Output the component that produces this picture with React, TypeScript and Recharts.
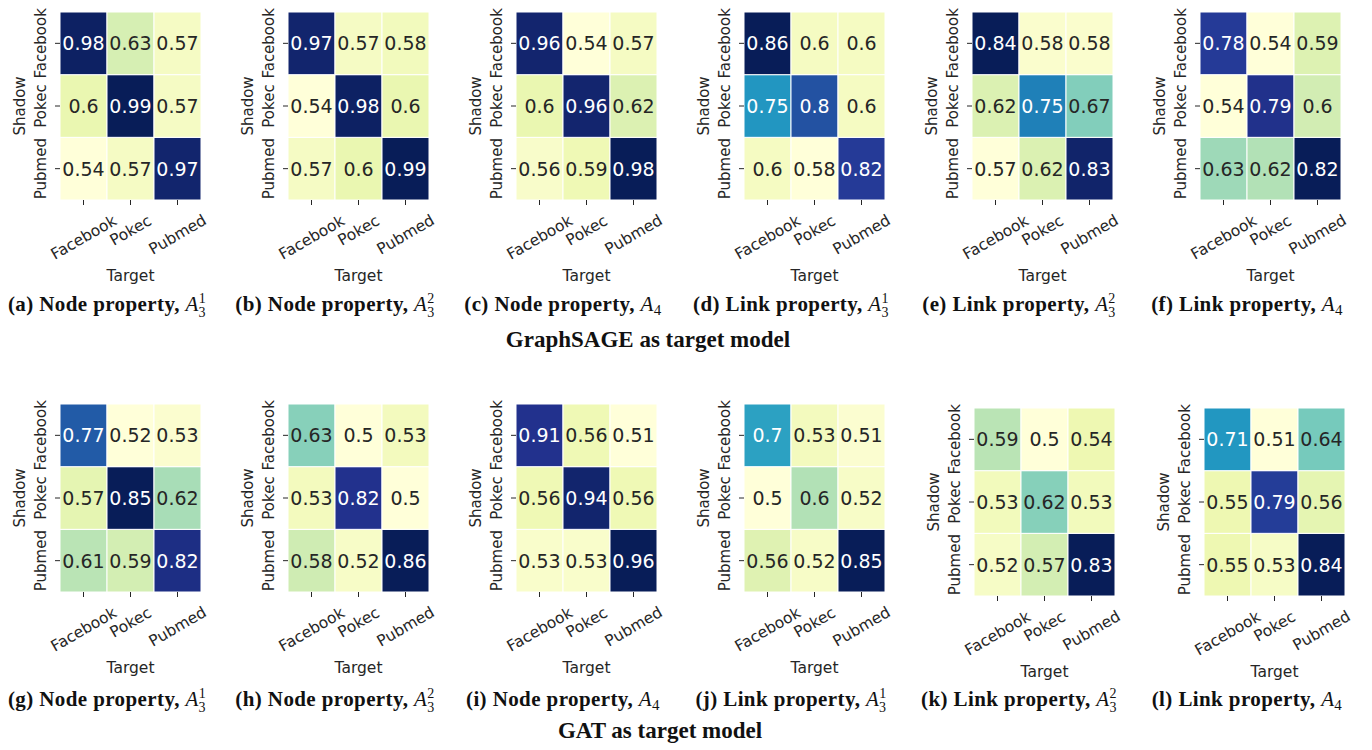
import { BarChart, Bar, XAxis, YAxis, Cell, LabelList } from 'recharts';

const TARGETS = ['Facebook', 'Pokec', 'Pubmed'];
const SHADOWS = ['Facebook', 'Pokec', 'Pubmed'];

// rows = shadow dataset, columns = target dataset
const sageNodeA31 = [[0.98, 0.63, 0.57], [0.6, 0.99, 0.57], [0.54, 0.57, 0.97]];
const sageNodeA32 = [[0.97, 0.57, 0.58], [0.54, 0.98, 0.6], [0.57, 0.6, 0.99]];
const sageNodeA4 = [[0.96, 0.54, 0.57], [0.6, 0.96, 0.62], [0.56, 0.59, 0.98]];
const sageLinkA31 = [[0.86, 0.6, 0.6], [0.75, 0.8, 0.6], [0.6, 0.58, 0.82]];
const sageLinkA32 = [[0.84, 0.58, 0.58], [0.62, 0.75, 0.67], [0.57, 0.62, 0.83]];
const sageLinkA4 = [[0.78, 0.54, 0.59], [0.54, 0.79, 0.6], [0.63, 0.62, 0.82]];
const gatNodeA31 = [[0.77, 0.52, 0.53], [0.57, 0.85, 0.62], [0.61, 0.59, 0.82]];
const gatNodeA32 = [[0.63, 0.5, 0.53], [0.53, 0.82, 0.5], [0.58, 0.52, 0.86]];
const gatNodeA4 = [[0.91, 0.56, 0.51], [0.56, 0.94, 0.56], [0.53, 0.53, 0.96]];
const gatLinkA31 = [[0.7, 0.53, 0.51], [0.5, 0.6, 0.52], [0.56, 0.52, 0.85]];
const gatLinkA32 = [[0.59, 0.5, 0.54], [0.53, 0.62, 0.53], [0.52, 0.57, 0.83]];
const gatLinkA4 = [[0.71, 0.51, 0.64], [0.55, 0.79, 0.56], [0.55, 0.53, 0.84]];

const LETTERS = ['a', 'b', 'c', 'd', 'e', 'f', 'g', 'h', 'i', 'j', 'k', 'l'];
const KINDS = ['Node', 'Node', 'Node', 'Link', 'Link', 'Link'];
const ATTACKS = [
  { sub: '3', sup: '1' },
  { sub: '3', sup: '2' },
  { sub: '4', sup: '' },
];
const ROW_TITLES = ['GraphSAGE as target model', 'GAT as target model'];

const MATRICES = [
  sageNodeA31, sageNodeA32, sageNodeA4, sageLinkA31, sageLinkA32, sageLinkA4,
  gatNodeA31, gatNodeA32, gatNodeA4, gatLinkA31, gatLinkA32, gatLinkA4,
];

// small per-panel nudges seen in the original figure
const NUDGE: Record<number, [number, number]> = { 10: [2, 4], 11: [4, 4] };

const YLGNBU = ['#ffffd9', '#edf8b1', '#c7e9b4', '#7fcdbb', '#41b6c4', '#1d91c0', '#225ea8', '#253494', '#081d58'];
const SANS = 'DejaVu Sans, sans-serif';
const SERIF = 'Liberation Serif, Times New Roman, serif';
const INK = '#262626';

function hexToRgb(h: string) {
  return [1, 3, 5].map((i) => parseInt(h.slice(i, i + 2), 16));
}

function ylgnbu(t: number) {
  const p = Math.max(0, Math.min(1, t)) * 8;
  const i = Math.min(7, Math.floor(p));
  const f = p - i;
  const a = hexToRgb(YLGNBU[i]);
  const b = hexToRgb(YLGNBU[i + 1]);
  return a.map((v, k) => Math.round(v + (b[k] - v) * f));
}

function textColor(rgb: number[]) {
  const lin = rgb.map((v) => {
    const c = v / 255;
    return c <= 0.03928 ? c / 12.92 : Math.pow((c + 0.055) / 1.055, 2.4);
  });
  const lum = 0.2126 * lin[0] + 0.7152 * lin[1] + 0.0722 * lin[2];
  return lum > 0.408 ? INK : '#ffffff';
}

// approx. rendered width of tick labels at 15px
const TICK_W: Record<string, number> = { Facebook: 72, Pokec: 44, Pubmed: 61 };

const XTick = (props: any) => {
  const { x, y, payload } = props;
  const w = TICK_W[payload.value] || 60;
  const cy = y + 7 + (0.5 * w + 0.866 * 12) / 2;
  return (
    <text
      transform={`translate(${x},${cy}) rotate(-30)`}
      textAnchor="middle"
      dy="0.35em"
      fill={INK}
      fontSize={15.5}
      fontFamily={SANS}
    >
      {payload.value}
    </text>
  );
};

const YTick = (props: any) => {
  const { x, y, payload } = props;
  const name = SHADOWS[2 - Math.floor(payload.value)];
  return (
    <text transform={`translate(${x - 7},${y}) rotate(-90)`} textAnchor="middle" fill={INK} fontSize={15} fontFamily={SANS}>
      {name}
    </text>
  );
};

function Heatmap({ values }: { values: number[][] }) {
  const flat = values.flat();
  const lo = Math.min(...flat);
  const hi = Math.max(...flat);
  const colors = values.map((row) => row.map((v) => ylgnbu((v - lo) / (hi - lo))));
  // each shadow row takes one unit band of the stack
  const data = TARGETS.map((t) => ({ target: t, Facebook: 1, Pokec: 1, Pubmed: 1 }));
  const stackOrder = [2, 1, 0];

  return (
    <BarChart width={228} height={300} data={data} margin={{ top: 12, right: 27, bottom: 0, left: 0 }} barCategoryGap={0} barGap={0}>
      <XAxis
        dataKey="target"
        type="category"
        height={100}
        interval={0}
        tickSize={5}
        tickLine={{ stroke: INK }}
        axisLine={false}
        tick={<XTick />}
        label={{
          content: (p: any) => {
            const vb = p.viewBox;
            return (
              <text x={vb.x + vb.width / 2} y={vb.y + 81} textAnchor="middle" fill={INK} fontSize={15.5} fontFamily={SANS}>
                Target
              </text>
            );
          },
        }}
      />
      <YAxis
        type="number"
        domain={[0, 3]}
        ticks={[0.5, 1.5, 2.5]}
        width={60}
        tickSize={5}
        tickLine={{ stroke: INK }}
        axisLine={false}
        tick={<YTick />}
        label={{
          content: (p: any) => {
            const vb = p.viewBox;
            const cy = vb.y + vb.height / 2;
            return (
              <text transform={`translate(25,${cy}) rotate(-90)`} textAnchor="middle" fill={INK} fontSize={15} fontFamily={SANS}>
                Shadow
              </text>
            );
          },
        }}
      />
      {stackOrder.map((r) => (
        <Bar key={r} dataKey={SHADOWS[r]} stackId="grid" isAnimationActive={false}>
          {data.map((d, j) => (
            <Cell key={d.target} fill={`rgb(${colors[r][j].join(',')})`} stroke="#ffffff" strokeWidth={1} />
          ))}
          <LabelList
            content={(p: any) => (
              <text
                x={p.x + p.width / 2}
                y={p.y + p.height / 2}
                dy="0.36em"
                textAnchor="middle"
                fill={textColor(colors[r][p.index])}
                fontSize={19}
                fontFamily={SANS}
              >
                {values[r][p.index]}
              </text>
            )}
          />
        </Bar>
      ))}
    </BarChart>
  );
}

function Caption({ idx, cx, y }: { idx: number; cx: number; y: number }) {
  const att = ATTACKS[idx % 3];
  return (
    <text x={cx} y={y} textAnchor="middle" fontFamily={SERIF} fontWeight="bold" fontSize={21} letterSpacing={0.4} fill="#111">
      {`(${LETTERS[idx]}) ${KINDS[idx % 6]} property, `}
      <tspan fontStyle="italic" fontWeight="normal">A</tspan>
      {att.sup ? (
        <>
          <tspan fontWeight="normal" fontSize={14} dy={-8}>{att.sup}</tspan>
          <tspan fontWeight="normal" fontSize={14} dx={-7.5} dy={14}>{att.sub}</tspan>
        </>
      ) : (
        <tspan fontWeight="normal" fontSize={15} dy={4}>{att.sub}</tspan>
      )}
    </text>
  );
}

export default function App() {
  return (
    <div style={{ position: 'absolute', left: 0, top: 0, width: 1372, height: 750, background: '#fff' }}>
      {MATRICES.map((m, i) => {
        const col = i % 6;
        const row = Math.floor(i / 6);
        const [dx, dy] = NUDGE[i] || [0, 0];
        return (
          <div key={i} style={{ position: 'absolute', left: col * 228 + dx, top: row * 392 + dy }}>
            <Heatmap values={m} />
          </div>
        );
      })}
      <svg width={1372} height={750} style={{ position: 'absolute', left: 0, top: 0, pointerEvents: 'none' }}>
        {MATRICES.map((_, i) => (
          <Caption key={i} idx={i} cx={(i % 6) * 228 + 107} y={Math.floor(i / 6) === 0 ? 311 : 706} />
        ))}
        <text x={648} y={347} textAnchor="middle" fontFamily={SERIF} fontWeight="bold" fontSize={23} fill="#111">
          {ROW_TITLES[0]}
        </text>
        <text x={660} y={738} textAnchor="middle" fontFamily={SERIF} fontWeight="bold" fontSize={23} fill="#111">
          {ROW_TITLES[1]}
        </text>
      </svg>
    </div>
  );
}
